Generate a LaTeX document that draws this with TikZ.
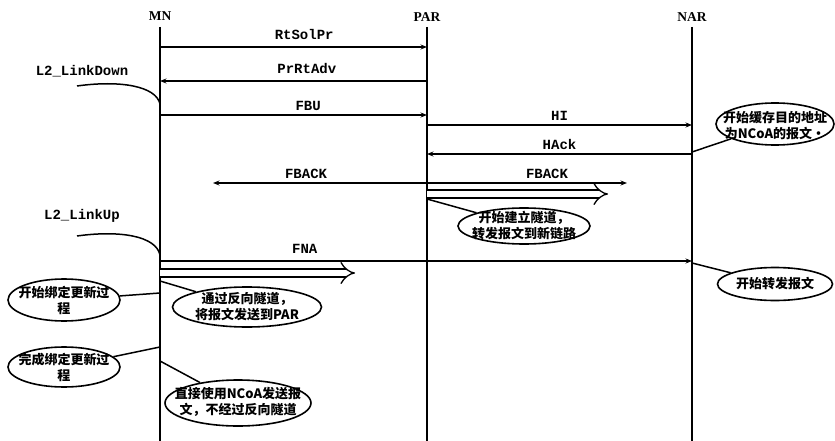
\documentclass[tikz,border=0pt]{standalone}
\usepackage{fontspec}
\setmainfont{Liberation Serif}
\newfontfamily\cjk{Noto Sans CJK SC}
\newfontfamily\lbl{Liberation Mono}
\usetikzlibrary{arrows.meta,shapes.geometric}
\begin{document}
\begin{tikzpicture}[x=1pt,y=-1pt,
  life/.style={line width=2pt},
  msg/.style={line width=1.5pt,-{Stealth[length=6.5pt,width=5pt]}},
  tunnel/.style={double,double distance=6.5pt,line width=1.3pt,-{Implies}},
  head/.style={font=\bfseries\fontsize{13.5}{15}\selectfont,inner sep=0pt},
  mlabel/.style={font=\lbl\bfseries\fontsize{14}{16}\selectfont,inner sep=1pt},
  bubble/.style={ellipse,draw,line width=1.6pt,inner sep=0pt},
  notetext/.style={align=center,inner sep=0pt,font=\cjk\bfseries\fontsize{13}{16}\selectfont},
  lead/.style={line width=1.5pt},
]
\useasboundingbox (0,0) rectangle (835,441);

% lifelines
\node[head] (mn) at (160,16) {MN};
\node[head] (par) at (427,17) {PAR};
\node[head] (nar) at (692,17) {NAR};
\coordinate (mnT) at (160,27);  \coordinate (mnB) at (160,441);
\coordinate (parT) at (427,27); \coordinate (parB) at (427,441);
\coordinate (narT) at (692,27); \coordinate (narB) at (692,441);
\draw[life] (mnT) -- (mnB);
\draw[life] (parT) -- (parB);
\draw[life] (narT) -- (narB);

% message end points
\coordinate (m1) at (160,47);  \coordinate (p1) at (427,47);
\coordinate (m2) at (160,81);  \coordinate (p2) at (427,81);
\coordinate (m3) at (160,115); \coordinate (p3) at (427,115);
\coordinate (p4) at (427,125); \coordinate (n4) at (692,125);
\coordinate (p5) at (427,154); \coordinate (n5) at (692,154);
\coordinate (p6) at (427,183); \coordinate (fl) at (213,183); \coordinate (fr) at (627,183);
\coordinate (p7) at (427,194); \coordinate (t7) at (608,194);
\coordinate (m8) at (160,261); \coordinate (n8) at (692,261);
\coordinate (m9) at (160,273); \coordinate (t9) at (355,273);

\draw[msg] (m1) -- node[mlabel,above=6pt,pos=0.54] (l1) {RtSolPr} (p1);
\draw[msg] (p2) -- node[mlabel,above=6pt,pos=0.45] (l2) {PrRtAdv} (m2);
\draw[msg] (m3) -- node[mlabel,above=3pt,pos=0.555] (l3) {FBU} (p3);
\draw[msg] (p4) -- node[mlabel,above=3pt] (l4) {HI} (n4);
\draw[msg] (n5) -- node[mlabel,above=3pt] (l5) {HAck} (p5);
\draw[msg] (p6) -- node[mlabel,above=3pt,pos=0.565] (l6) {FBACK} (fl);
\draw[msg] (p6) -- node[mlabel,above=3pt,pos=0.6] (l7) {FBACK} (fr);
\draw[tunnel] (p7) -- (t7);
\draw[msg] (m8) -- node[mlabel,above=6pt,pos=0.272] (l8) {FNA} (n8);
\draw[tunnel] (m9) -- (t9);

% L2 events
\node[mlabel] (ld) at (82,71) {L2\_LinkDown};
\coordinate (ldS) at (77,86); \coordinate (ldE) at (160,104);
\draw[lead] (ldS) .. controls (120,80) and (156,86) .. (ldE);
\node[mlabel] (lu) at (82,216) {L2\_LinkUp};
\coordinate (luS) at (77,236); \coordinate (luE) at (160,255);
\draw[lead] (luS) .. controls (120,230) and (156,236) .. (luE);

% notes
\node[bubble,minimum width=118pt,minimum height=42pt] (e1) at (775,124) {};
\node[notetext] (e1t) at (775,126) {开始缓存目的地址\\为NCoA的报文·};
\coordinate (c1) at (692,152);
\draw[lead] (c1) -- (e1);

\node[bubble,minimum width=132pt,minimum height=36pt] (e2) at (524,226) {};
\node[notetext] (e2t) at (524,226) {开始建立隧道，\\转发报文到新链路};
\coordinate (c2) at (427,199);
\draw[lead] (c2) -- (e2);

\node[bubble,minimum width=115pt,minimum height=33pt] (e3) at (775,284) {};
\node[notetext] (e3t) at (775,284) {开始转发报文};
\coordinate (c3) at (692,263);
\draw[lead] (c3) -- (e3);

\node[bubble,minimum width=112pt,minimum height=42pt] (e4) at (64,300) {};
\node[notetext] (e4t) at (64,300) {开始绑定更新过\\程};
\coordinate (c4) at (160,293);
\draw[lead] (c4) -- (e4);

\node[bubble,minimum width=149pt,minimum height=40pt] (e5) at (247,307) {};
\node[notetext] (e5t) at (247,307) {通过反向隧道，\\将报文发送到PAR};
\coordinate (c5) at (160,281);
\draw[lead] (c5) -- (e5);

\node[bubble,minimum width=112pt,minimum height=40pt] (e6) at (64,367) {};
\node[notetext] (e6t) at (64,367) {完成绑定更新过\\程};
\coordinate (c6) at (160,347);
\draw[lead] (c6) -- (e6);

\node[bubble,minimum width=146pt,minimum height=46pt] (e7) at (238,403) {};
\node[notetext] (e7t) at (238,402) {直接使用NCoA发送报\\文，不经过反向隧道};
\coordinate (c7) at (160,361);
\draw[lead] (c7) -- (e7);
\end{tikzpicture}
\end{document}
